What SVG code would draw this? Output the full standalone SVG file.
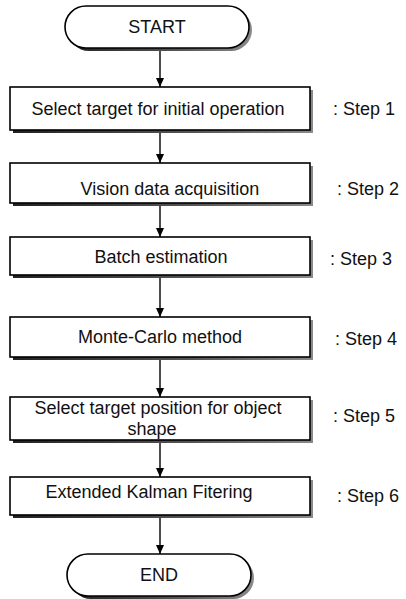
<svg xmlns="http://www.w3.org/2000/svg" width="406" height="599" viewBox="0 0 406 599">
<defs>
<linearGradient id="sh" x1="0" y1="0" x2="1" y2="0">
<stop offset="0" stop-color="#222"/>
<stop offset="0.6" stop-color="#555"/>
<stop offset="1" stop-color="#8a8a8a"/>
</linearGradient>
<marker id="ah" markerWidth="10" markerHeight="10" refX="9" refY="5" orient="auto" markerUnits="userSpaceOnUse">
<path d="M0,1 L9,5 L0,9 Z" fill="#000"/>
</marker>
</defs>
<style>
.box{fill:#fff;stroke:#000;stroke-width:1.6}
.shadow{fill:url(#sh)}
.t{font-family:"Liberation Sans",Arial,sans-serif;font-size:18px;fill:#111}
.s{font-family:"Liberation Sans",Arial,sans-serif;font-size:18px;fill:#111}
.c{stroke:#000;stroke-width:1.4;fill:none}
</style>
<rect width="406" height="599" fill="#fff"/>
<g id="connectors">
<line class="c" x1="160" y1="51" x2="160" y2="87" marker-end="url(#ah)"/>
<line class="c" x1="160" y1="133" x2="160" y2="163" marker-end="url(#ah)"/>
<line class="c" x1="160" y1="206" x2="160" y2="237" marker-end="url(#ah)"/>
<line class="c" x1="160" y1="278" x2="160" y2="317" marker-end="url(#ah)"/>
<line class="c" x1="160" y1="360" x2="160" y2="397" marker-end="url(#ah)"/>
<line class="c" x1="160" y1="443" x2="160" y2="477" marker-end="url(#ah)"/>
<line class="c" x1="160" y1="518" x2="160" y2="554" marker-end="url(#ah)"/>
</g>
<g id="start">
<rect class="shadow" x="68" y="9" width="184" height="42" rx="21"/>
<rect class="box" x="65" y="6" width="184" height="42" rx="21"/>
<text class="t" x="157" y="33" text-anchor="middle">START</text>
</g>
<g id="step1">
<rect class="shadow" x="13" y="90" width="300" height="43"/>
<rect class="box" x="10" y="87" width="300" height="43"/>
<text class="t" x="158" y="115" text-anchor="middle">Select target for initial operation</text>
<text class="s" x="333" y="115">: Step 1</text>
</g>
<g id="step2">
<rect class="shadow" x="13" y="166" width="300" height="40"/>
<rect class="box" x="10" y="163" width="300" height="40"/>
<text class="t" x="170" y="195" text-anchor="middle">Vision data acquisition</text>
<text class="s" x="337" y="195">: Step 2</text>
</g>
<g id="step3">
<rect class="shadow" x="13" y="240" width="300" height="38"/>
<rect class="box" x="10" y="237" width="300" height="38"/>
<text class="t" x="161" y="263" text-anchor="middle">Batch estimation</text>
<text class="s" x="330" y="265">: Step 3</text>
</g>
<g id="step4">
<rect class="shadow" x="13" y="320" width="300" height="40"/>
<rect class="box" x="10" y="317" width="300" height="40"/>
<text class="t" x="160" y="343" text-anchor="middle">Monte-Carlo method</text>
<text class="s" x="335" y="345">: Step 4</text>
</g>
<g id="step5">
<rect class="shadow" x="13" y="400" width="300" height="43"/>
<rect class="box" x="10" y="397" width="300" height="43"/>
<text class="t" x="158" y="414" text-anchor="middle">Select target position for object</text>
<text class="t" x="152" y="435" text-anchor="middle">shape</text>
<text class="s" x="333" y="422">: Step 5</text>
</g>
<g id="step6">
<rect class="shadow" x="13" y="480" width="300" height="38"/>
<rect class="box" x="10" y="477" width="300" height="38"/>
<text class="t" x="149" y="498" text-anchor="middle">Extended Kalman Fitering</text>
<text class="s" x="337" y="502">: Step 6</text>
</g>
<g id="end">
<rect class="shadow" x="70" y="557" width="184" height="42" rx="21"/>
<rect class="box" x="67" y="554" width="184" height="42" rx="21"/>
<text class="t" x="159" y="581" text-anchor="middle">END</text>
</g>
</svg>
